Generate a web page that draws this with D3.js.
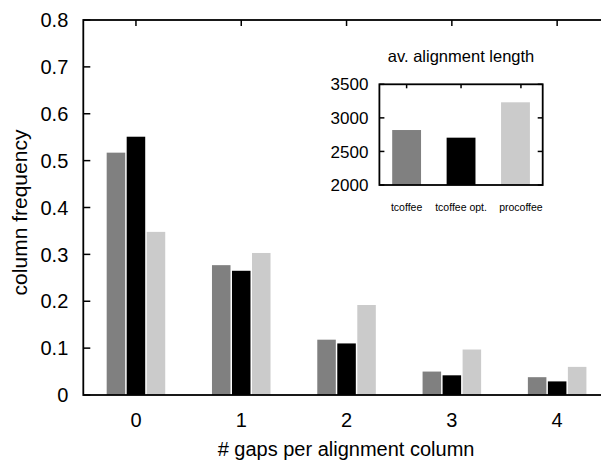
<!DOCTYPE html>
<html>
<head>
<meta charset="utf-8">
<script src="https://cdn.jsdelivr.net/npm/d3@7"></script>
<style>
  html, body { margin: 0; padding: 0; background: #fff; }
  svg { display: block; font-family: "Liberation Sans", Arial, Helvetica, sans-serif; }
</style>
</head>
<body>
<svg id="chart" width="601" height="461"></svg>
<script>
// ---- data ----
const categories = ["0", "1", "2", "3", "4"];
const seriesNames = ["tcoffee", "tcoffee opt.", "procoffee"];
const tcoffee    = [0.517, 0.277, 0.118, 0.050, 0.038];
const tcoffeeOpt = [0.551, 0.265, 0.110, 0.042, 0.029];
const procoffee  = [0.348, 0.303, 0.192, 0.097, 0.060];
const yTicks = [0, 0.1, 0.2, 0.3, 0.4, 0.5, 0.6, 0.7, 0.8];

const insetTitle = "av. alignment length";
const insetValues = [2819, 2705, 3232];
const insetTicks = [2000, 2500, 3000, 3500];
const insetTickPos = [0, 1, 2.1];

const seriesColors = ["#808080", "#000000", "#cbcbcb"];

// ---- layout ----
const svg = d3.select("#chart");
const L = 83.3, R = 609.8, T = 20, B = 395;

const x = d3.scaleLinear().domain([-0.5, 4.5]).range([L, R]);
const y = d3.scaleLinear().domain([0, 0.8]).range([B, T]);
const series = [tcoffee, tcoffeeOpt, procoffee];
const offsets = [-0.19, 0, 0.19];
const bw = 0.176;

// ticks (drawn under bars)
const axisG = svg.append("g");
categories.forEach((c, i) => {
  axisG.append("line").attr("x1", x(i)).attr("x2", x(i)).attr("y1", T).attr("y2", T + 6)
    .attr("stroke", "#000").attr("stroke-width", 1.5);
  axisG.append("line").attr("x1", x(i)).attr("x2", x(i)).attr("y1", B).attr("y2", B - 6)
    .attr("stroke", "#000").attr("stroke-width", 1.5);
});
yTicks.forEach(t => {
  axisG.append("line").attr("x1", L).attr("x2", L + 7).attr("y1", y(t)).attr("y2", y(t))
    .attr("stroke", "#000").attr("stroke-width", 1.5);
  axisG.append("line").attr("x1", R).attr("x2", R - 7).attr("y1", y(t)).attr("y2", y(t))
    .attr("stroke", "#000").attr("stroke-width", 1.5);
});

// bars
series.forEach((vals, s) => {
  svg.append("g").selectAll("rect").data(vals).join("rect")
    .attr("x", (d, i) => x(i + offsets[s] - bw / 2))
    .attr("width", x(bw) - x(0))
    .attr("y", d => y(d))
    .attr("height", d => y(0) - y(d))
    .attr("fill", seriesColors[s]);
});

// frame
svg.append("rect").attr("x", L).attr("y", T).attr("width", R - L).attr("height", B - T)
  .attr("fill", "none").attr("stroke", "#000").attr("stroke-width", 1.8);

// tick labels
svg.append("g").selectAll("text").data(yTicks).join("text")
  .attr("x", L - 15).attr("y", d => y(d)).attr("dy", "0.36em")
  .attr("text-anchor", "end").attr("font-size", 20).attr("fill", "#000")
  .text(d => d3.format("")(d));

svg.append("g").selectAll("text").data(categories).join("text")
  .attr("x", (d, i) => x(i)).attr("y", 427)
  .attr("text-anchor", "middle").attr("font-size", 20).attr("fill", "#000")
  .text(d => d);

// axis titles
svg.append("text").attr("x", (L + R) / 2 - 0.5).attr("y", 456)
  .attr("text-anchor", "middle").attr("font-size", 20).text("# gaps per alignment column");
svg.append("text").attr("transform", `translate(27,${(T + B) / 2 + 5}) rotate(-90)`)
  .attr("text-anchor", "middle").attr("font-size", 21).text("column frequency");

// ---- inset ----
const iL = 379.4, iR = 542.7, iT = 84.3, iB = 185;
const ix = d3.scaleLinear().domain([-0.5, 2.5]).range([iL, iR]);
const iy = d3.scaleLinear().domain([2000, 3500]).range([iB, iT]);
const ibw = 0.53;

const ig = svg.append("g");
insetValues.forEach((v, i) => {
  ig.append("rect")
    .attr("x", ix(i - ibw / 2)).attr("width", ix(ibw) - ix(0))
    .attr("y", iy(v)).attr("height", iy(2000) - iy(v))
    .attr("fill", seriesColors[i]);
});
insetTickPos.forEach(p => {
  ig.append("line").attr("x1", ix(p)).attr("x2", ix(p)).attr("y1", iT).attr("y2", iT + 4)
    .attr("stroke", "#000").attr("stroke-width", 1.5);
});
insetTicks.forEach(t => {
  ig.append("line").attr("x1", iL).attr("x2", iL + 5).attr("y1", iy(t)).attr("y2", iy(t))
    .attr("stroke", "#000").attr("stroke-width", 1.5);
  ig.append("line").attr("x1", iR).attr("x2", iR - 5).attr("y1", iy(t)).attr("y2", iy(t))
    .attr("stroke", "#000").attr("stroke-width", 1.5);
});
ig.append("rect").attr("x", iL).attr("y", iT).attr("width", iR - iL).attr("height", iB - iT)
  .attr("fill", "none").attr("stroke", "#000").attr("stroke-width", 1.8);

ig.selectAll("text.yt").data(insetTicks).join("text").attr("class", "yt")
  .attr("x", iL - 11).attr("y", d => iy(d)).attr("dy", "0.36em")
  .attr("text-anchor", "end").attr("font-size", 17).text(d => d);

ig.selectAll("text.xt").data(seriesNames).join("text").attr("class", "xt")
  .attr("x", (d, i) => ix(insetTickPos[i])).attr("y", 211)
  .attr("text-anchor", "middle").attr("font-size", 10.5).text(d => d);

ig.append("text").attr("x", ix(1)).attr("y", 62)
  .attr("text-anchor", "middle").attr("font-size", 16.5).text(insetTitle);
</script>
</body>
</html>
